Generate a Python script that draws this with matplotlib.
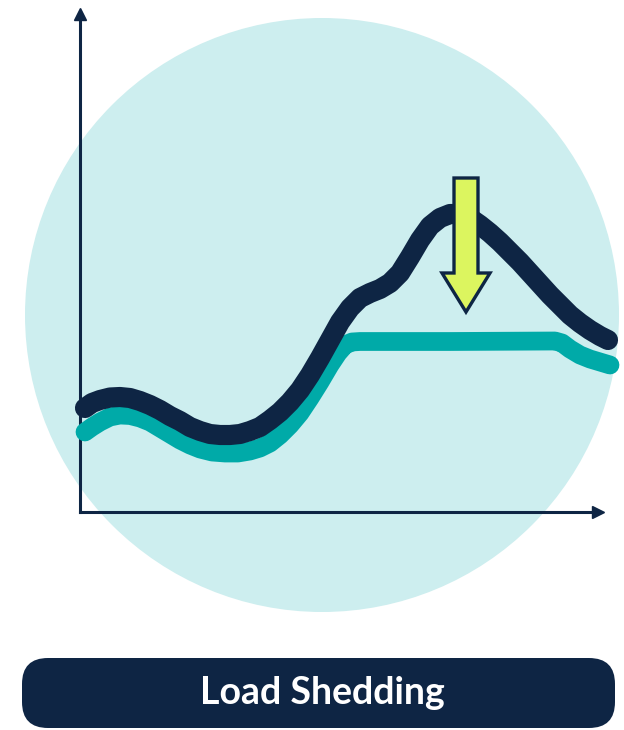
import matplotlib.pyplot as plt
from matplotlib.patches import Circle, FancyBboxPatch, FancyArrow

NAVY = '#0e2544'
TEAL = '#00aaa8'
CIRCLE = '#cdeeef'
ARROW_FILL = '#dcf55f'

# Load before shedding (dark curve)
time_base = [5, 12, 20, 30, 40, 50, 60, 70, 80, 90, 100, 110, 120, 130, 140, 150, 160,
             170, 180, 190, 200, 210, 220, 230, 240, 250, 260, 270, 280, 290, 300,
             310, 320, 330, 340, 350, 360, 370, 380, 390, 400, 410, 420, 430, 440,
             450, 460, 470, 480, 490, 500, 510, 520, 528]
load_base = [104, 109, 112, 114.5, 115, 114, 111, 107, 102, 96, 91, 85, 81, 78, 77, 77,
             78, 81, 85, 92, 100, 110, 122, 137, 154, 172, 190, 204, 214, 219, 223,
             229, 239, 255, 272, 286, 294, 298, 298, 294, 287, 279, 270, 260, 250,
             239, 228, 217, 207, 197, 189, 182, 176, 172]

# Load after shedding (teal curve)
time_shed = [5, 12, 20, 30, 40, 50, 60, 70, 80, 90, 100, 110, 120, 132, 145, 158, 170,
             180, 190, 200, 210, 220, 230, 240, 250, 258, 265, 272, 280, 370, 475,
             482, 490, 500, 510, 520, 530]
load_shed = [80, 85, 90, 95, 97, 96.5, 94, 90, 84, 78, 72, 67, 63, 60, 59, 59, 61,
             64, 69, 77, 87, 99, 114, 130, 147, 159, 167, 170, 170.5, 170.5, 171,
             169, 163, 157, 153, 150, 147]

# Arrow showing the cut: position, start and end level
arrow_time = 386
arrow_top = 334
arrow_tip = 200

label = 'Load Shedding'

fig = plt.figure(figsize=(6.24, 7.30), dpi=100)

# Background layer in pixel units
bg = fig.add_axes([0, 0, 1, 1])
bg.set_xlim(0, 624)
bg.set_ylim(730, 0)
bg.axis('off')
bg.add_patch(Circle((322, 315), 297, facecolor=CIRCLE, edgecolor='none'))
bg.add_patch(FancyBboxPatch((22, 658), 593, 70,
                            boxstyle='round,pad=0,rounding_size=26',
                            facecolor=NAVY, edgecolor='none'))
bg.text(322, 693, label, color='white', fontsize=27, fontweight='bold',
        family=['Lato', 'DejaVu Sans'], ha='center', va='center')

# Chart layer: origin at (80, 512) px
ax = fig.add_axes([80 / 624, (730 - 512) / 730, (598 - 80) / 624, (512 - 14) / 730])
ax.patch.set_alpha(0)
ax.set_xlim(0, 518)
ax.set_ylim(0, 498)
for side in ['top', 'right']:
    ax.spines[side].set_visible(False)
for side in ['left', 'bottom']:
    ax.spines[side].set_color(NAVY)
    ax.spines[side].set_linewidth(2.2)
ax.set_xticks([])
ax.set_yticks([])
ax.plot(1, 0, '>', color=NAVY, ms=9, transform=ax.get_yaxis_transform(), clip_on=False)
ax.plot(0, 1, '^', color=NAVY, ms=9, transform=ax.get_xaxis_transform(), clip_on=False)

ax.plot(time_shed, load_shed, color=TEAL, lw=13.5, solid_capstyle='round',
        solid_joinstyle='round', clip_on=False, zorder=3)
ax.plot(time_base, load_base, color=NAVY, lw=14.5, solid_capstyle='round',
        solid_joinstyle='round', clip_on=False, zorder=4)

ax.add_patch(FancyArrow(arrow_time, arrow_top, 0, arrow_tip - arrow_top, width=24,
                        head_width=48, head_length=39, length_includes_head=True,
                        facecolor=ARROW_FILL, edgecolor=NAVY, linewidth=2.4,
                        joinstyle='miter', zorder=5, clip_on=False))

plt.savefig('out.png', dpi=100)
plt.close()
